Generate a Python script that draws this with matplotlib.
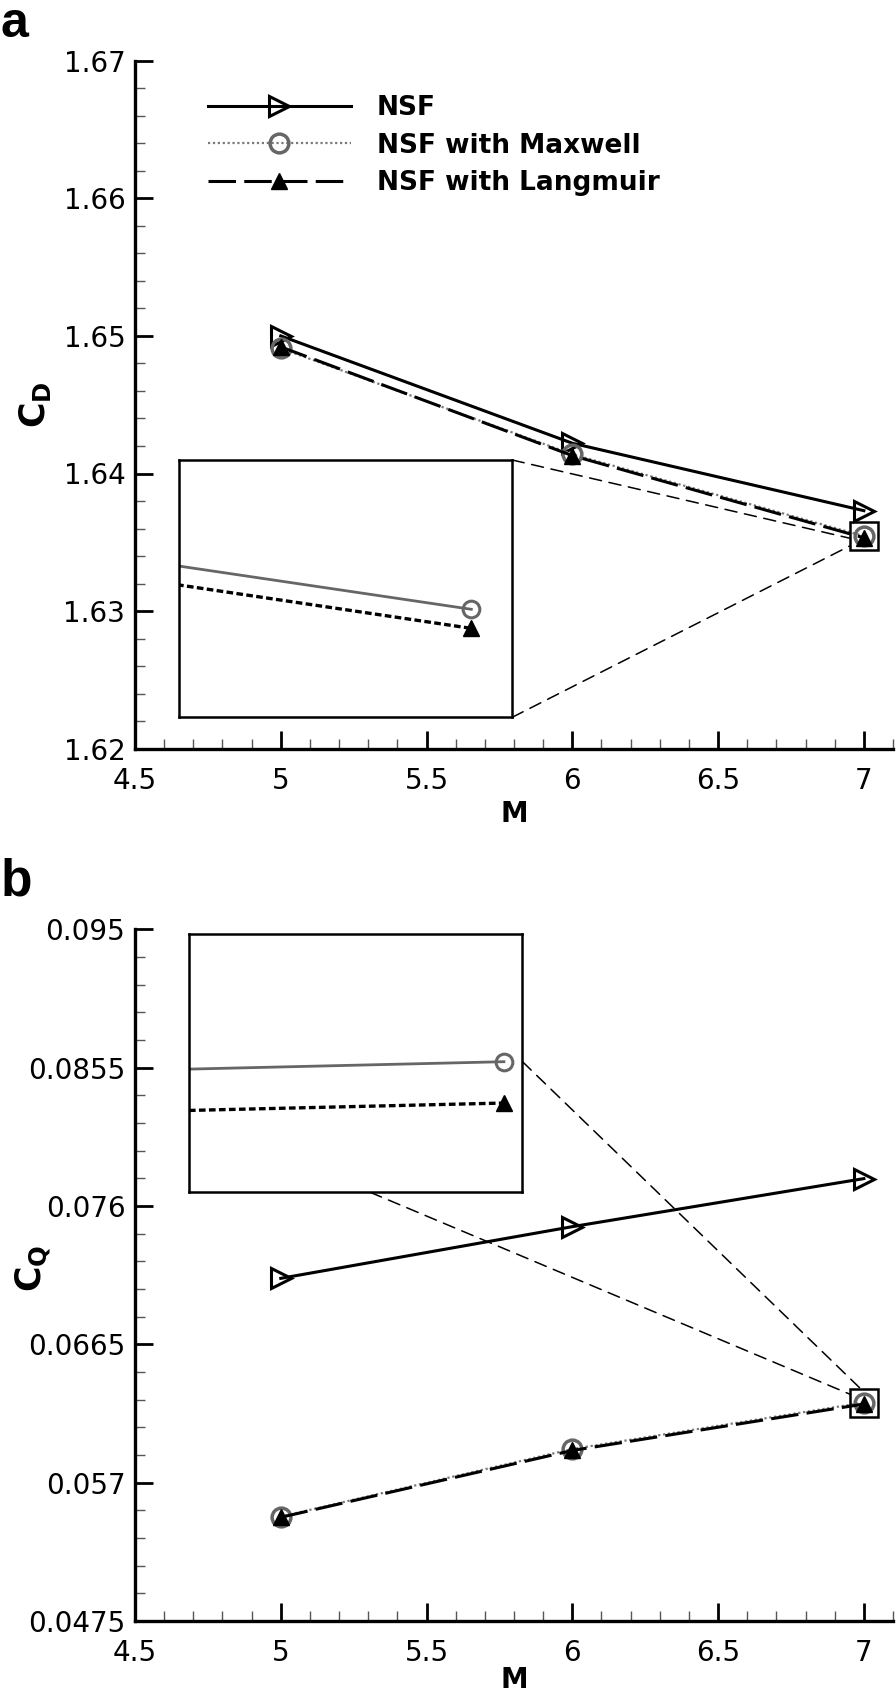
import matplotlib
matplotlib.use('Agg')
import matplotlib.pyplot as plt
from matplotlib.patches import Rectangle, ConnectionPatch
from matplotlib.ticker import FixedLocator, MultipleLocator
from matplotlib.font_manager import FontProperties

# ---------------- data ----------------
M = [5, 6, 7]
cd_nsf = [1.6500, 1.6422, 1.6373]
cd_maxwell = [1.6491, 1.6414, 1.63545]
cd_langmuir = [1.6492, 1.6413, 1.63533]
cq_nsf = [0.07103, 0.07458, 0.07788]
cq_maxwell = [0.05467, 0.05931, 0.06250]
cq_langmuir = [0.05462, 0.05921, 0.06240]

x_ticks = [4.5, 5, 5.5, 6, 6.5, 7]
x_ticklabels = ['4.5', '5', '5.5', '6', '6.5', '7']
cd_ticks = [1.62, 1.63, 1.64, 1.65, 1.66, 1.67]
cd_ticklabels = ['1.62', '1.63', '1.64', '1.65', '1.66', '1.67']
cq_ticks = [0.0475, 0.057, 0.0665, 0.076, 0.0855, 0.095]
cq_ticklabels = ['0.0475', '0.057', '0.0665', '0.076', '0.0855', '0.095']
series_labels = ['NSF', 'NSF with Maxwell', 'NSF with Langmuir']

# ---------------- fonts ----------------
FAM = 'DejaVu Sans'
TICK_FS = 20
LEG_FS = 19
plt.rcParams['font.family'] = [FAM]
plt.rcParams['mathtext.fontset'] = 'dejavusans'

W, H = 896, 1698
fig = plt.figure(figsize=(W / 100, H / 100), dpi=100)


def fr(x0, y0, x1, y1):
    return [x0 / W, 1 - y1 / H, (x1 - x0) / W, (y1 - y0) / H]


GRAY_LINE = '#7a7a7a'
GRAY_MK = '#666666'


def main_panel(ax, nsf, mx, lg, ylim, yticks, yticklabels, yminor, xlabelpad):
    ax.plot(M, nsf, color='k', lw=2.2, marker='>', ms=15, mfc='none',
            mec='k', mew=2.2, label=series_labels[0], zorder=3)
    ax.plot(M, mx, color=GRAY_LINE, lw=1.6, ls=(0, (1, 1.2)), marker='o',
            ms=13.5, mfc='none', mec=GRAY_MK, mew=2.5, label=series_labels[1], zorder=4)
    ax.plot(M, lg, color='k', lw=2.2, ls=(0, (9, 2.7)), marker='^', ms=11,
            mfc='k', mec='k', label=series_labels[2], zorder=5)
    ax.set_xlim(4.5, 7.1)
    ax.set_ylim(*ylim)
    for s in ['top', 'right']:
        ax.spines[s].set_visible(False)
    for s in ['left', 'bottom']:
        ax.spines[s].set_linewidth(2.4)
    ax.xaxis.set_major_locator(FixedLocator(x_ticks))
    ax.set_xticklabels(x_ticklabels)
    ax.xaxis.set_minor_locator(MultipleLocator(0.1))
    ax.yaxis.set_major_locator(FixedLocator(yticks))
    ax.set_yticklabels(yticklabels)
    ax.yaxis.set_minor_locator(MultipleLocator(yminor))
    ax.tick_params(which='major', direction='in', length=13, width=2.0,
                   labelsize=TICK_FS)
    ax.tick_params(axis='x', which='major', pad=13)
    ax.tick_params(axis='y', which='major', pad=7)
    ax.tick_params(which='minor', direction='in', length=7, width=1.0,
                   color='#555555')
    ax.set_xlabel('M', fontsize=TICK_FS, fontweight='bold', labelpad=xlabelpad)


def inset_panel(rect, mx, lg, xlim, ylim):
    ia = fig.add_axes(rect)
    ia.plot(M, mx, color='#666666', lw=2.0, ls='-', marker='o', ms=12,
            mfc='none', mec='#666666', mew=2.2)
    ia.plot(M, lg, color='k', lw=2.4, ls=(0, (2, 1)), marker='^', ms=11,
            mfc='k', mec='k')
    ia.set_xlim(*xlim)
    ia.set_ylim(*ylim)
    ia.set_xticks([])
    ia.set_yticks([])
    for s in ia.spines.values():
        s.set_linewidth(1.8)
    ia.set_zorder(10)
    return ia


# ---------------- panel a ----------------
axa = fig.add_axes(fr(135, 60.7, 893, 748.7))
main_panel(axa, cd_nsf, cd_maxwell, cd_langmuir, (1.62, 1.67), cd_ticks,
           cd_ticklabels, 0.002, 4)
axa.set_ylabel(r'$\mathbf{C_D}$', fontsize=25)
axa.yaxis.set_label_coords(-0.108, 0.5)

leg = axa.legend(loc='upper left', bbox_to_anchor=(208 / W, 1 - 95 / H),
                 bbox_transform=fig.transFigure, frameon=False,
                 handlelength=5.4, handletextpad=1.0, labelspacing=0.44,
                 borderpad=0, borderaxespad=0, numpoints=1,
                 prop=FontProperties(family=FAM, weight='bold', size=LEG_FS))

ia = inset_panel(fr(179.3, 460, 512.2, 717.3), cd_maxwell, cd_langmuir,
                 (6.9543, 7.0064), (1.63477, 1.63639))

# zoom box around M = 7
dxa, dya = 0.048, 0.00103
sqa_x0, sqa_y0 = M[-1] - dxa, cd_maxwell[-1] - dya
axa.add_patch(Rectangle((sqa_x0, sqa_y0), 2 * dxa, 2 * dya, fill=False,
                        lw=1.8, ec='k', zorder=6))
for (xa, ya), fb in [((1, 1), 0.425), ((1, 0), 0.155)]:
    cp = ConnectionPatch(xyA=(xa, ya), coordsA=ia.transAxes,
                         xyB=(sqa_x0, sqa_y0 + fb * 2 * dya), coordsB=axa.transData,
                         ls=(0, (8, 5)), lw=1.1, color='k', zorder=2)
    fig.add_artist(cp)

# ---------------- panel b ----------------
axb = fig.add_axes(fr(135, 929.3, 893, 1621))
main_panel(axb, cq_nsf, cq_maxwell, cq_langmuir, (0.0475, 0.095), cq_ticks,
           cq_ticklabels, 0.0019, -1)
axb.set_ylabel(r'$\mathbf{C_Q}$', fontsize=25)
axb.yaxis.set_label_coords(-0.108, 0.51)

ib = inset_panel(fr(188.6, 934, 522.4, 1192.3), cq_maxwell, cq_langmuir,
                 (6.99437, 7.00033), (0.062184, 0.062809))

dxb, dyb = 0.048, 0.00096
sqb_x0, sqb_y0 = M[-1] - dxb, cq_maxwell[-1] - dyb
axb.add_patch(Rectangle((sqb_x0, sqb_y0), 2 * dxb, 2 * dyb, fill=False,
                        lw=1.8, ec='k', zorder=6))
cp1 = ConnectionPatch(xyA=(1, 0.506), coordsA=ib.transAxes,
                      xyB=(sqb_x0 + 0.38 * 2 * dxb, sqb_y0 + 2 * dyb), coordsB=axb.transData,
                      ls=(0, (8, 5)), lw=1.1, color='k', zorder=2)
cp2 = ConnectionPatch(xyA=(0.544, 0), coordsA=ib.transAxes,
                      xyB=(sqb_x0, sqb_y0 + 0.8 * 2 * dyb), coordsB=axb.transData,
                      ls=(0, (8, 5)), lw=1.1, color='k', zorder=2)
fig.add_artist(cp1)
fig.add_artist(cp2)

# panel letters
fig.text(1 / W, 1 - 1 / H, 'a', fontsize=36, fontweight='bold',
         family=['Liberation Sans', 'DejaVu Sans'], va='top', ha='left')
fig.text(1 / W, 1 - 895 / H, 'b', fontsize=37, fontweight='bold',
         family=['Liberation Sans', 'DejaVu Sans'], va='baseline', ha='left')

fig.savefig('out.png', dpi=100)
